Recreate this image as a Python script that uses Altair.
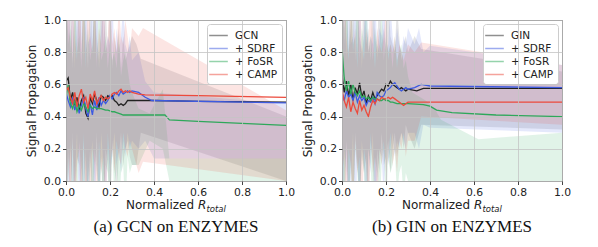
import altair as alt
import pandas as pd

SERIES_A = ["GCN", "+ SDRF", "+ FoSR", "+ CAMP"]
SERIES_B = ["GIN", "+ SDRF", "+ FoSR", "+ CAMP"]
COLORS = ["#222222", "#3d5ae0", "#2ea85a", "#ec4a3c"]
BAND_COLORS = ["#4a4a55", "#3d5ae0", "#2ea85a", "#ec4a3c"]
CAPTIONS = ["(a) GCN on ENZYMES", "(b) GIN on ENZYMES"]
Y_TITLE = "Signal Propagation"
X_TITLE_PARTS = ["Normalized", "R", "total"]
TICKS = [0.0, 0.2, 0.4, 0.6, 0.8, 1.0]

# shared x positions of the dense (noisy) region
X_NOISY = [0.00, 0.01, 0.02, 0.03, 0.04, 0.05, 0.06, 0.07, 0.08, 0.09, 0.10,
           0.11, 0.12, 0.13, 0.14, 0.15, 0.16, 0.17, 0.18, 0.19, 0.20,
           0.21, 0.22, 0.23, 0.24, 0.25, 0.26, 0.27, 0.28, 0.29, 0.30]

# ---------------- panel (a): GCN ----------------
A_GCN_Y = [0.62, 0.64, 0.50, 0.55, 0.47, 0.52, 0.44, 0.50, 0.53, 0.42, 0.39, 0.52, 0.48, 0.54, 0.50, 0.46,
           0.53, 0.52, 0.50, 0.53, 0.52, 0.53, 0.50, 0.49, 0.47, 0.48, 0.47, 0.48, 0.50, 0.50, 0.50]
A_GCN_TX = [0.35, 0.40, 0.60, 1.00]
A_GCN_TY = [0.50, 0.50, 0.495, 0.49]
A_SDRF_Y = [0.55, 0.50, 0.46, 0.52, 0.44, 0.49, 0.42, 0.47, 0.52, 0.45, 0.40, 0.48, 0.41, 0.50, 0.44, 0.52,
            0.47, 0.50, 0.48, 0.50, 0.53, 0.51, 0.54, 0.55, 0.53, 0.56, 0.54, 0.55, 0.56, 0.55, 0.56]
A_SDRF_TX = [0.33, 0.36, 0.39, 1.00]
A_SDRF_TY = [0.55, 0.52, 0.50, 0.485]
A_FOSR_Y = [0.52, 0.60, 0.48, 0.45, 0.50, 0.43, 0.47, 0.44, 0.48, 0.46, 0.43, 0.47, 0.45, 0.46, 0.45, 0.45,
            0.45, 0.445, 0.44, 0.44, 0.435, 0.43, 0.43, 0.425, 0.42, 0.415, 0.41, 0.41, 0.41, 0.41, 0.41]
A_FOSR_TX = [0.45, 0.46, 0.47, 0.60, 1.00]
A_FOSR_TY = [0.41, 0.395, 0.38, 0.37, 0.345]
A_CAMP_Y = [0.56, 0.58, 0.52, 0.48, 0.55, 0.46, 0.53, 0.57, 0.49, 0.52, 0.45, 0.54, 0.50, 0.56, 0.48, 0.51,
            0.53, 0.50, 0.52, 0.51, 0.52, 0.54, 0.55, 0.54, 0.56, 0.57, 0.55, 0.56, 0.55, 0.56, 0.55]
A_CAMP_TX = [0.33, 0.36, 0.60, 1.00]
A_CAMP_TY = [0.54, 0.535, 0.53, 0.52]

A_GCN_HI = [1.2, 0.9, 1.3, 0.7, 1.2, 0.85, 1.3, 0.75, 1.2, 0.95, 0.7, 1.3, 0.8, 1.2, 0.9, 0.75,
            1.3, 0.85, 1.1, 0.8, 1.2, 0.7, 0.9, 0.8, 0.95, 0.7, 0.9, 0.75, 0.8, 0.85, 0.9]
A_GCN_LO = [-0.2, 0.2, -0.3, 0.3, -0.2, 0.15, 0.1, -0.3, 0.25, -0.2, 0.0, 0.2, -0.2, 0.0, 0.3, -0.3,
            0.15, -0.2, 0.2, 0.1, -0.3, 0.25, 0.1, -0.1, 0.15, 0.3, 0.1, 0.2, 0.25, 0.15, 0.1]
A_GCN_BX = [0.32, 0.34, 1.00]
A_GCN_BLO = [0.10, 0.30, 0.00]
A_GCN_BHI = [0.85, 0.76, 0.40]
A_SDRF_HI = [0.9, 1.3, 0.8, 1.2, 0.7, 1.3, 0.9, 1.2, 0.75, 1.3, 0.85, 0.9, 1.2, 0.8, 1.3, 0.7,
             0.95, 1.2, 0.8, 0.9, 0.85, 1.2, 0.75, 0.95, 0.8, 0.9, 1.1, 0.85, 0.8, 0.9, 0.75]
A_SDRF_LO = [0.1, -0.3, 0.25, -0.2, 0.0, 0.3, -0.3, 0.15, -0.2, 0.2, -0.3, 0.1, 0.25, -0.2, 0.15, -0.2,
             0.3, 0.1, -0.2, 0.2, 0.05, 0.15, 0.3, 0.1, 0.2, 0.05, 0.25, 0.15, 0.3, 0.2, 0.25]
A_SDRF_BX = [0.33, 0.36, 0.40, 1.00]
A_SDRF_BLO = [0.20, 0.25, 0.14, 0.14]
A_SDRF_BHI = [0.80, 0.62, 0.55, 0.48]
A_FOSR_HI = [1.3, 0.85, 0.95, 0.75, 1.2, 0.8, 0.9, 0.7, 1.3, 0.8, 0.95, 0.75, 0.85, 1.2, 0.7, 1.3,
             0.75, 0.8, 0.9, 0.7, 0.85, 0.75, 0.8, 0.7, 0.9, 0.65, 0.75, 0.8, 0.7, 0.6, 0.55]
A_FOSR_LO = [-0.2, 0.0, 0.2, -0.3, 0.1, -0.2, 0.25, 0.05, -0.3, 0.15, -0.2, 0.1, -0.3, 0.2, 0.05, -0.2,
             0.15, -0.3, 0.1, 0.05, -0.2, 0.2, -0.1, 0.1, -0.2, 0.05, 0.1, -0.2, 0.15, 0.05, 0.1]
A_FOSR_BX = [0.33, 0.38, 0.44, 0.47, 1.00]
A_FOSR_BLO = [0.10, 0.25, 0.20, 0.00, 0.00]
A_FOSR_BHI = [0.45, 0.42, 0.57, 0.14, 0.14]
A_CAMP_HI = [0.95, 1.3, 0.8, 1.2, 0.9, 0.75, 1.3, 0.85, 1.2, 0.7, 1.3, 0.9, 0.8, 1.2, 0.75, 0.95,
             0.85, 1.3, 0.8, 0.9, 1.2, 0.85, 0.95, 0.8, 1.1, 0.9, 0.85, 1.0, 0.9, 0.8, 0.95]
A_CAMP_LO = [-0.3, 0.15, -0.2, 0.25, -0.3, 0.1, 0.2, -0.2, 0.3, -0.2, 0.15, -0.3, 0.2, 0.1, -0.2, 0.25,
             0.05, 0.15, -0.3, 0.3, 0.1, 0.2, 0.05, 0.25, 0.15, 0.1, 0.3, 0.2, 0.15, 0.25, 0.2]
A_CAMP_BX = [0.33, 0.35, 1.00]
A_CAMP_BLO = [0.05, 0.12, 0.00]
A_CAMP_BHI = [0.90, 0.95, 0.44]

# ---------------- panel (b): GIN ----------------
B_GIN_Y = [0.66, 0.55, 0.62, 0.53, 0.60, 0.50, 0.58, 0.54, 0.61, 0.52, 0.56, 0.48, 0.53, 0.50, 0.55, 0.51,
           0.53, 0.55, 0.57, 0.56, 0.60, 0.59, 0.62, 0.60, 0.59, 0.58, 0.57, 0.58, 0.57, 0.56, 0.57]
B_GIN_TX = [0.34, 0.37, 1.00]
B_GIN_TY = [0.56, 0.575, 0.575]
B_SDRF_Y = [0.55, 0.50, 0.56, 0.52, 0.54, 0.50, 0.55, 0.49, 0.53, 0.50, 0.52, 0.47, 0.50, 0.49, 0.52, 0.48,
            0.55, 0.53, 0.52, 0.53, 0.56, 0.57, 0.58, 0.60, 0.61, 0.59, 0.57, 0.56, 0.57, 0.58, 0.57]
B_SDRF_TX = [0.33, 0.36, 0.40, 1.00]
B_SDRF_TY = [0.58, 0.60, 0.59, 0.58]
B_FOSR_Y = [0.82, 0.64, 0.56, 0.62, 0.54, 0.60, 0.55, 0.53, 0.56, 0.52, 0.53, 0.51, 0.52, 0.50, 0.52, 0.51,
            0.51, 0.50, 0.50, 0.51, 0.50, 0.50, 0.49, 0.49, 0.485, 0.48, 0.48, 0.48, 0.48, 0.48, 0.48]
B_FOSR_TX = [0.37, 0.40, 0.43, 0.50, 0.70, 1.00]
B_FOSR_TY = [0.475, 0.465, 0.44, 0.425, 0.41, 0.40]
B_CAMP_Y = [0.56, 0.50, 0.46, 0.52, 0.43, 0.49, 0.45, 0.42, 0.50, 0.44, 0.47, 0.43, 0.40, 0.46, 0.50, 0.48,
            0.51, 0.50, 0.52, 0.51, 0.51, 0.52, 0.51, 0.52, 0.51, 0.50, 0.49, 0.48, 0.47, 0.48, 0.49]
B_CAMP_TX = [0.35, 1.00]
B_CAMP_TY = [0.49, 0.49]

B_GIN_HI = [1.3, 0.85, 1.2, 0.8, 0.95, 1.3, 0.75, 1.2, 0.9, 0.8, 1.3, 0.85, 0.95, 0.75, 1.2, 0.9,
            0.8, 1.3, 0.85, 0.95, 0.8, 1.2, 0.9, 0.85, 0.8, 1.1, 0.9, 0.75, 0.85, 0.9, 0.8]
B_GIN_LO = [0.1, -0.3, 0.25, -0.2, 0.15, -0.3, 0.3, 0.1, -0.2, 0.2, 0.05, 0.15, -0.3, 0.25, 0.1, -0.2,
            0.2, 0.05, 0.3, 0.1, 0.15, 0.25, 0.05, 0.2, 0.3, 0.15, 0.25, 0.3, 0.2, 0.35, 0.3]
B_GIN_BX = [0.33, 0.36, 1.00]
B_GIN_BLO = [0.20, 0.35, 0.32]
B_GIN_BHI = [0.90, 0.82, 0.68]
B_SDRF_HI = [0.9, 1.2, 0.75, 1.3, 0.85, 0.9, 1.2, 0.8, 1.3, 0.7, 0.95, 1.2, 0.8, 0.9, 0.85, 1.3,
             0.75, 0.95, 0.9, 1.2, 0.8, 0.85, 1.1, 0.9, 0.8, 0.95, 0.85, 0.8, 0.9, 0.85, 0.95]
B_SDRF_LO = [-0.3, 0.2, 0.05, -0.2, 0.0, 0.3, -0.3, 0.15, -0.2, 0.25, 0.1, -0.3, 0.2, 0.05, 0.3, -0.2,
             0.0, 0.2, 0.15, -0.1, 0.25, 0.1, 0.2, 0.3, 0.15, 0.25, 0.2, 0.3, 0.25, 0.2, 0.3]
B_SDRF_BX = [0.33, 0.35, 0.37, 0.40, 1.00]
B_SDRF_BLO = [0.30, 0.20, 0.35, 0.33, 0.30]
B_SDRF_BHI = [0.85, 0.95, 0.80, 0.84, 0.72]
B_FOSR_HI = [1.2, 0.95, 1.3, 0.8, 1.2, 0.85, 0.9, 1.3, 0.75, 0.95, 0.85, 1.2, 0.8, 0.9, 0.75, 0.95,
             0.85, 0.8, 1.1, 0.75, 0.9, 0.8, 0.85, 0.7, 0.9, 0.75, 0.8, 0.85, 0.7, 0.75, 0.65]
B_FOSR_LO = [0.15, -0.3, 0.25, -0.2, 0.1, -0.3, 0.2, 0.05, -0.2, 0.15, 0.05, -0.3, 0.2, 0.1, -0.2, 0.15,
             0.05, -0.2, 0.1, 0.2, -0.2, 0.15, 0.05, 0.1, 0.2, -0.1, 0.05, 0.1, -0.1, 0.05, 0.0]
B_FOSR_BX = [0.32, 0.38, 0.42, 0.45, 0.62, 1.00]
B_FOSR_BLO = [0.00, 0.00, 0.00, 0.00, 0.00, 0.00]
B_FOSR_BHI = [0.55, 0.50, 0.45, 0.38, 0.26, 0.30]
B_CAMP_HI = [0.85, 1.3, 0.9, 0.75, 1.2, 0.8, 0.95, 0.7, 1.3, 0.85, 0.75, 0.95, 0.8, 1.2, 0.9, 0.7,
             0.95, 0.85, 0.8, 0.9, 1.1, 0.75, 0.85, 0.8, 0.9, 0.7, 0.85, 0.8, 0.75, 0.8, 0.85]
B_CAMP_LO = [0.05, 0.15, -0.3, 0.2, 0.1, -0.2, 0.25, 0.05, 0.15, -0.3, 0.2, 0.1, -0.2, 0.3, 0.05, 0.15,
             -0.2, 0.2, 0.1, 0.25, 0.05, 0.15, 0.3, 0.1, 0.2, 0.05, 0.25, 0.2, 0.3, 0.15, 0.25]
B_CAMP_BX = [0.33, 0.36, 1.00]
B_CAMP_BLO = [0.25, 0.40, 0.35]
B_CAMP_BHI = [0.80, 0.86, 0.72]

W, H = 220, 161
FONT = "DejaVu Sans"


def line_df(names, ys, txs, tys):
    rows = []
    for name, y, tx, ty in zip(names, ys, txs, tys):
        for xv, yv in zip(X_NOISY + tx, y + ty):
            rows.append({"x": xv, "y": yv, "series": name})
    return pd.DataFrame(rows)


def band_df(names, los, his, bxs, blos, bhis):
    rows = []
    for k, (name, lo, hi, bx, blo, bhi) in enumerate(zip(names, los, his, bxs, blos, bhis)):
        for xv, l, h in zip(X_NOISY + bx, lo + blo, hi + bhi):
            rows.append({"x": xv, "lo": l, "hi": h, "band": k})
    return pd.DataFrame(rows)


def panel(names, lines, bands, caption):
    xs = alt.Scale(domain=[0, 1], nice=False, zero=False)
    ys = alt.Scale(domain=[0, 1], nice=False, zero=False)
    common = dict(values=TICKS, format=".1f", tickSize=3.5, labelPadding=2,
                  labelFontSize=10.8, labelFont=FONT, labelColor="#222", tickColor="#444",
                  domain=False, grid=True, gridColor="#c4c4c4", gridWidth=0.8, zindex=1,
                  labelFlush=False, labelOverlap=False)
    xaxis = alt.Axis(title=None, **common)
    yaxis = alt.Axis(title=Y_TITLE, titleFont=FONT, titleFontSize=12, titleFontWeight="normal",
                     titleColor="#222", titlePadding=5, **common)
    base_band = alt.Chart(bands).mark_area(opacity=0.14, clip=True, interpolate="linear").encode(
        x=alt.X("x:Q", scale=xs, axis=xaxis),
        y=alt.Y("lo:Q", scale=ys, axis=yaxis, stack=None),
        y2="hi:Q",
        fill=alt.Fill("band:O", scale=alt.Scale(domain=[0, 1, 2, 3], range=BAND_COLORS), legend=None),
        detail="band:O",
    )
    base_line = alt.Chart(lines).mark_line(strokeWidth=1.3, clip=True).encode(
        x=alt.X("x:Q", scale=xs, axis=xaxis),
        y=alt.Y("y:Q", scale=ys, axis=yaxis),
        color=alt.Color("series:N", scale=alt.Scale(domain=names, range=COLORS),
                        sort=names,
                        legend=alt.Legend(title=None, orient="top-right", offset=4,
                                          fillColor="white", strokeColor="#cccccc", cornerRadius=3,
                                          padding=4, rowPadding=0, labelFont=FONT, labelFontSize=10.5,
                                          labelColor="#222", symbolType="M-1.4,0L1.4,0",
                                          symbolSize=177, symbolStrokeWidth=1.5,
                                          symbolOpacity=0.5, labelOffset=9, labelLimit=100)),
    )
    xt_main = alt.Chart(pd.DataFrame({"t": [X_TITLE_PARTS[0]]})).mark_text(
        align="left", baseline="alphabetic", font=FONT, fontSize=12, color="#222"
    ).encode(x=alt.value(60), y=alt.value(H + 28), text="t:N")
    xt_r = alt.Chart(pd.DataFrame({"t": [X_TITLE_PARTS[1]]})).mark_text(
        align="left", baseline="alphabetic", font=FONT, fontSize=12, fontStyle="italic", color="#222"
    ).encode(x=alt.value(132), y=alt.value(H + 28), text="t:N")
    xt_sub = alt.Chart(pd.DataFrame({"t": [X_TITLE_PARTS[2]]})).mark_text(
        align="left", baseline="alphabetic", font=FONT, fontSize=8.5, fontStyle="italic", color="#222"
    ).encode(x=alt.value(140.5), y=alt.value(H + 31), text="t:N")
    cap = alt.Chart(pd.DataFrame({"t": [caption]})).mark_text(
        align="center", baseline="middle", font="Liberation Serif", fontSize=17, color="#111"
    ).encode(x=alt.value(W / 2), y=alt.value(H + 46), text="t:N")
    return alt.layer(base_band, base_line, xt_main, xt_r, xt_sub, cap).properties(width=W, height=H)


pa = panel(SERIES_A,
           line_df(SERIES_A, [A_GCN_Y, A_SDRF_Y, A_FOSR_Y, A_CAMP_Y],
                   [A_GCN_TX, A_SDRF_TX, A_FOSR_TX, A_CAMP_TX],
                   [A_GCN_TY, A_SDRF_TY, A_FOSR_TY, A_CAMP_TY]),
           band_df(SERIES_A, [A_GCN_LO, A_SDRF_LO, A_FOSR_LO, A_CAMP_LO],
                   [A_GCN_HI, A_SDRF_HI, A_FOSR_HI, A_CAMP_HI],
                   [A_GCN_BX, A_SDRF_BX, A_FOSR_BX, A_CAMP_BX],
                   [A_GCN_BLO, A_SDRF_BLO, A_FOSR_BLO, A_CAMP_BLO],
                   [A_GCN_BHI, A_SDRF_BHI, A_FOSR_BHI, A_CAMP_BHI]),
           CAPTIONS[0])
pb = panel(SERIES_B,
           line_df(SERIES_B, [B_GIN_Y, B_SDRF_Y, B_FOSR_Y, B_CAMP_Y],
                   [B_GIN_TX, B_SDRF_TX, B_FOSR_TX, B_CAMP_TX],
                   [B_GIN_TY, B_SDRF_TY, B_FOSR_TY, B_CAMP_TY]),
           band_df(SERIES_B, [B_GIN_LO, B_SDRF_LO, B_FOSR_LO, B_CAMP_LO],
                   [B_GIN_HI, B_SDRF_HI, B_FOSR_HI, B_CAMP_HI],
                   [B_GIN_BX, B_SDRF_BX, B_FOSR_BX, B_CAMP_BX],
                   [B_GIN_BLO, B_SDRF_BLO, B_FOSR_BLO, B_CAMP_BLO],
                   [B_GIN_BHI, B_SDRF_BHI, B_FOSR_BHI, B_CAMP_BHI]),
           CAPTIONS[1])

chart = alt.hconcat(pa, pb, spacing=4).resolve_scale(
    color="independent", fill="independent"
).properties(
    padding={"left": 16, "top": 5, "right": 0, "bottom": 0},
    background="white",
).configure_view(stroke="#444444", strokeWidth=1).configure_axis(labelOverlap=False)

chart.save("out.html", embed_options={"renderer": "svg", "actions": False})
